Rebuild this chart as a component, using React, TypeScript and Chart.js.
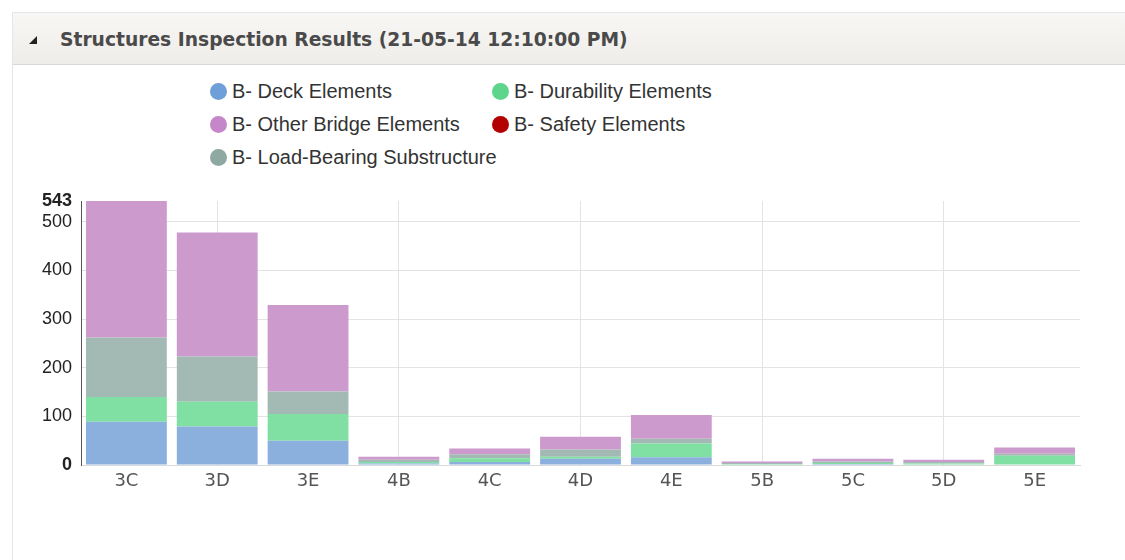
import React, { useEffect, useRef } from "react";
import { Chart, registerables } from "chart.js";

Chart.register(...registerables);

const categories = ["3C", "3D", "3E", "4B", "4C", "4D", "4E", "5B", "5C", "5D", "5E"];
const deckElements = [89, 79, 50, 3, 6, 13, 16, 1, 2, 1, 1];
const durabilityElements = [51, 51, 55, 3, 8, 4, 28, 1, 2, 2, 18];
const safetyElements = [0, 0, 0, 0, 0, 0, 0, 0, 0, 0, 0];
const loadBearingSubstructure = [122, 93, 46, 5, 8, 15, 10, 2, 3, 3, 4];
const otherBridgeElements = [281, 255, 178, 6, 12, 26, 49, 3, 6, 5, 13];
const yTickValues = [0, 100, 200, 300, 400, 500, 543];
const yMax = 543;

const seriesNames = [
  "B- Deck Elements",
  "B- Durability Elements",
  "B- Safety Elements",
  "B- Load-Bearing Substructure",
  "B- Other Bridge Elements",
];
const seriesData = [deckElements, durabilityElements, safetyElements, loadBearingSubstructure, otherBridgeElements];
const barColors = ["#8bb0de", "#80e0a4", "#cc3333", "#a3bab4", "#cc9acd"];
const legendColors = ["#6f9fd8", "#5dd58b", "#b30000", "#8ea8a2", "#c587c9"];
const legendOrder = [0, 1, 4, 2, 3];

const title = "Structures Inspection Results (21-05-14 12:10:00 PM)";

export default function App() {
  const canvasRef = useRef<HTMLCanvasElement | null>(null);

  useEffect(() => {
    const canvas = canvasRef.current;
    if (!canvas) return;
    const chart = new Chart(canvas, {
      type: "bar",
      data: {
        labels: categories,
        datasets: seriesNames.map((name, i) => ({
          label: name,
          data: seriesData[i],
          backgroundColor: barColors[i],
          borderWidth: 0,
          barPercentage: 0.89,
          categoryPercentage: 1,
          stack: "s",
        })),
      },
      options: {
        animation: false,
        responsive: false,
        maintainAspectRatio: false,
        layout: { padding: { left: 0, right: 45, top: 21, bottom: 0 } },
        plugins: {
          legend: { display: false },
          tooltip: { enabled: false },
        },
        scales: {
          x: {
            stacked: true,
            offset: true,
            afterFit: (s: any) => {
              s.height = 35;
            },
            grid: {
              offset: false,
              drawTicks: false,
              color: (ctx: any) => (ctx.index % 2 === 1 ? "#e3e3e3" : "rgba(0,0,0,0)"),
            },
            border: { color: "#d9d9d9", width: 1 },
            ticks: {
              padding: 6,
              color: "#555",
              font: { family: "'DejaVu Sans', Verdana, sans-serif", size: 18 },
            },
          },
          y: {
            stacked: true,
            min: 0,
            max: yMax,
            afterFit: (s: any) => {
              s.width = 81;
            },
            afterBuildTicks: (s: any) => {
              s.ticks = yTickValues.map((v) => ({ value: v }));
            },
            grid: {
              drawTicks: false,
              color: (ctx: any) => (ctx.tick && ctx.tick.value === yMax ? "rgba(0,0,0,0)" : "#e3e3e3"),
            },
            border: { color: "#555", width: 1 },
            ticks: {
              autoSkip: false,
              padding: 9,
              color: "#222",
              font: (ctx: any) => ({
                family: "'Liberation Sans', Arial, sans-serif",
                size: 18,
                weight: ctx.tick && (ctx.tick.value === yMax || ctx.tick.value === 0) ? "bold" : "normal",
              }),
            },
          },
        },
      },
    });
    return () => chart.destroy();
  }, []);

  return (
    <div
      style={{
        position: "fixed",
        left: 0,
        top: 0,
        width: 1125,
        height: 560,
        background: "#fff",
        overflow: "hidden",
      }}
    >
      <div
        style={{
          position: "absolute",
          left: 12,
          top: 12,
          width: 1200,
          height: 600,
          borderLeft: "1px solid #e6e6e6",
          borderTop: "1px solid #e6e6e6",
        }}
      />
      <div
        style={{
          position: "absolute",
          left: 13,
          top: 13,
          width: 1112,
          height: 51,
          background: "linear-gradient(#f8f7f5, #efede9)",
          borderBottom: "1px solid #d8d8d8",
        }}
      />
      <div
        style={{
          position: "absolute",
          left: 29,
          top: 36,
          width: 0,
          height: 0,
          borderLeft: "8px solid transparent",
          borderBottom: "8px solid #222",
        }}
      />
      <div
        style={{
          position: "absolute",
          left: 60,
          top: 29,
          fontFamily: "'DejaVu Sans', Verdana, sans-serif",
          fontWeight: "bold",
          fontSize: 18.7,
          lineHeight: "22px",
          color: "#4a4a4a",
          whiteSpace: "nowrap",
        }}
      >
        {title}
      </div>
      <div
        style={{
          position: "absolute",
          left: 210,
          top: 75,
          display: "grid",
          gridTemplateColumns: "282px 282px",
          gridAutoRows: "33px",
          fontFamily: "'Liberation Sans', Arial, sans-serif",
          fontSize: 20,
          color: "#333",
        }}
      >
        {legendOrder.map((i) => (
          <div key={i} style={{ display: "flex", alignItems: "center", whiteSpace: "nowrap" }}>
            <span
              style={{
                display: "inline-block",
                width: 17,
                height: 17,
                borderRadius: "50%",
                background: legendColors[i],
                marginRight: 5,
                flex: "none",
              }}
            />
            <span>{seriesNames[i]}</span>
          </div>
        ))}
      </div>
      <canvas
        ref={canvasRef}
        width={1125}
        height={320}
        style={{ position: "absolute", left: 0, top: 180, width: 1125, height: 320 }}
      />
    </div>
  );
}
